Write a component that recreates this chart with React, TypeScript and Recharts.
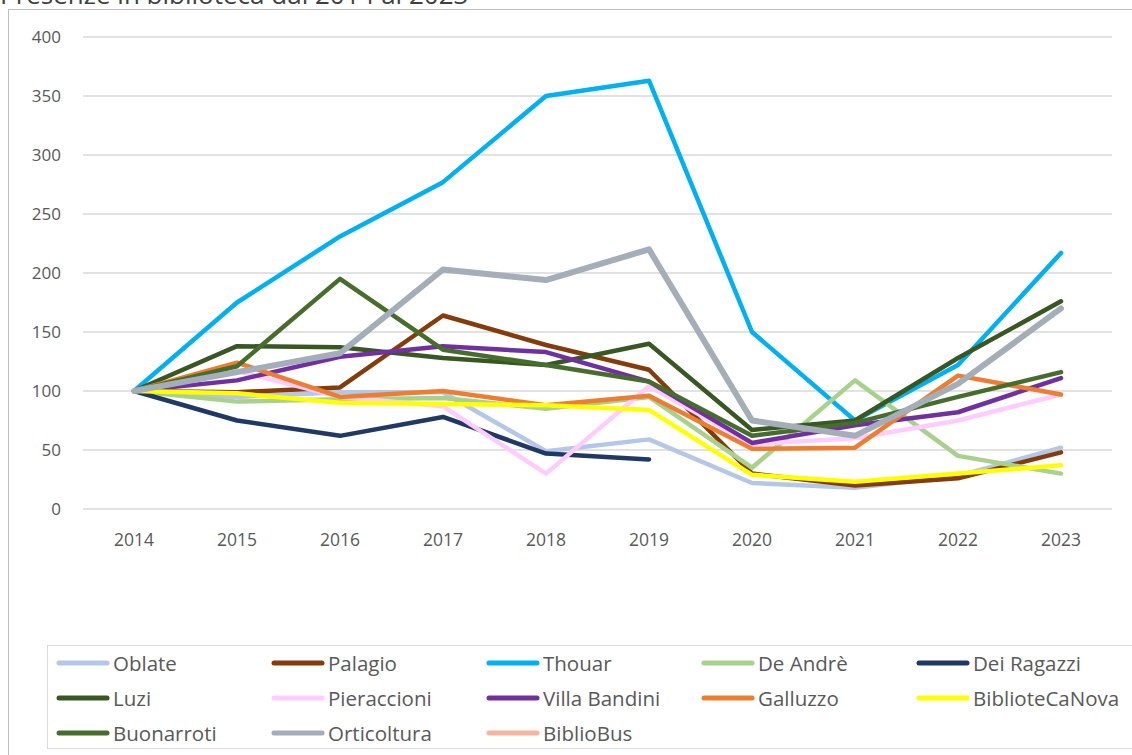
import React from 'react';
import { LineChart, Line, XAxis, YAxis, CartesianGrid } from 'recharts';

const years = ['2014', '2015', '2016', '2017', '2018', '2019', '2020', '2021', '2022', '2023'];
const yTicks = [0, 50, 100, 150, 200, 250, 300, 350, 400];

const oblate = [100, 95, 99, 99, 49, 59, 22, 18, 28, 52];
const palagio = [100, 99, 103, 164, 139, 118, 30, 20, 26, 48];
const thouar = [100, 175, 231, 277, 350, 363, 150, 75, 122, 217];
const deAndre = [100, 91, 93, 94, 85, 95, 35, 109, 45, 30];
const deiRagazzi = [100, 75, 62, 78, 47, 42, null, null, null, null];
const luzi = [100, 138, 137, 128, 122, 140, 67, 75, 128, 176];
const pieraccioni = [100, 117, 95, 87, 30, 104, 55, 60, 75, 97];
const villaBandini = [100, 109, 129, 138, 133, 108, 56, 71, 82, 111];
const galluzzo = [100, 124, 95, 100, 88, 96, 51, 52, 113, 97];
const bibliotecaNova = [100, 98, 90, 89, 88, 84, 29, 23, 30, 37];
const buonarroti = [100, 121, 195, 135, 122, 108, 62, 73, 95, 116];
const orticoltura = [100, 116, 132, 203, 194, 220, 75, 62, 106, 170];
const biblioBus = [null, null, null, null, null, null, null, null, null, null];

const series = [
  { key: 'oblate', name: 'Oblate', color: '#B4C7E7', values: oblate },
  { key: 'palagio', name: 'Palagio', color: '#843C0C', values: palagio },
  { key: 'thouar', name: 'Thouar', color: '#00B0F0', values: thouar },
  { key: 'deAndre', name: 'De Andrè', color: '#A9D18E', values: deAndre },
  { key: 'deiRagazzi', name: 'Dei Ragazzi', color: '#203864', values: deiRagazzi },
  { key: 'luzi', name: 'Luzi', color: '#385723', values: luzi },
  { key: 'pieraccioni', name: 'Pieraccioni', color: '#FFCCFF', values: pieraccioni },
  { key: 'villaBandini', name: 'Villa Bandini', color: '#7030A0', values: villaBandini },
  { key: 'galluzzo', name: 'Galluzzo', color: '#ED7D31', values: galluzzo },
  { key: 'bibliotecaNova', name: 'BiblioteCaNova', color: '#FFFF00', values: bibliotecaNova },
  { key: 'buonarroti', name: 'Buonarroti', color: '#476D2D', values: buonarroti },
  { key: 'orticoltura', name: 'Orticoltura', color: '#A3AEB8', values: orticoltura, width: 6 },
  { key: 'biblioBus', name: 'BiblioBus', color: '#F4B6A0', values: biblioBus },
];

const data = years.map((year, i) => {
  const row: Record<string, any> = { year };
  series.forEach((s) => {
    row[s.key] = s.values[i];
  });
  return row;
});

const font = "'Open Sans', 'Noto Sans', sans-serif";

export default function App() {
  return (
    <div
      style={{
        position: 'absolute',
        left: 0,
        top: 0,
        width: 1132,
        height: 755,
        background: '#fff',
        overflow: 'hidden',
        fontFamily: font,
      }}
    >
      {/* title is mostly cut off by the top edge in the original */}
      <div style={{ position: 'absolute', left: 0, top: -24, fontSize: 26, color: '#404040', whiteSpace: 'nowrap' }}>
        Presenze in biblioteca dal 2014 al 2023
      </div>
      <div
        style={{
          position: 'absolute',
          left: 8,
          top: 9,
          width: 1200,
          height: 800,
          border: '1px solid #BFBFBF',
        }}
      />
      <div style={{ position: 'absolute', left: 0, top: 0 }}>
        <LineChart width={1132} height={570} data={data} margin={{ top: 37, right: 20, left: 0, bottom: 31 }}>
          <CartesianGrid vertical={false} stroke="#D9D9D9" strokeWidth={1.5} />
          <XAxis
            dataKey="year"
            axisLine={false}
            tickLine={false}
            padding={{ left: 51, right: 51 }}
            tick={{ fill: '#595959', fontSize: 17.5, fontFamily: font }}
            tickMargin={19}
            height={30}
          />
          <YAxis
            domain={[0, 400]}
            ticks={yTicks}
            axisLine={false}
            tickLine={false}
            width={83}
            tick={{ fill: '#595959', fontSize: 17, fontFamily: font }}
            tickMargin={16}
          />
          {series.map((s) => (
            <Line
              key={s.key}
              dataKey={s.key}
              name={s.name}
              stroke={s.color}
              strokeWidth={s.width || 4.5}
              strokeLinecap="round"
              strokeLinejoin="round"
              dot={false}
              activeDot={false}
              isAnimationActive={false}
            />
          ))}
        </LineChart>
      </div>
      <div
        style={{
          position: 'absolute',
          left: 47,
          top: 645,
          width: 1090,
          height: 104,
          border: '1px solid #D9D9D9',
          boxSizing: 'border-box',
        }}
      >
        {series.map((s, i) => (
          <div
            key={s.key}
            style={{
              position: 'absolute',
              left: 7 + (i % 5) * 215,
              top: 3 + Math.floor(i / 5) * 35,
              height: 28,
              display: 'flex',
              alignItems: 'center',
              whiteSpace: 'nowrap',
            }}
          >
            <svg width={56} height={10}>
              <line x1={4} y1={5} x2={52} y2={5} stroke={s.color} strokeWidth={5} strokeLinecap="round" />
            </svg>
            <span style={{ fontSize: 20.5, color: '#595959', marginLeft: 2 }}>{s.name}</span>
          </div>
        ))}
      </div>
    </div>
  );
}
